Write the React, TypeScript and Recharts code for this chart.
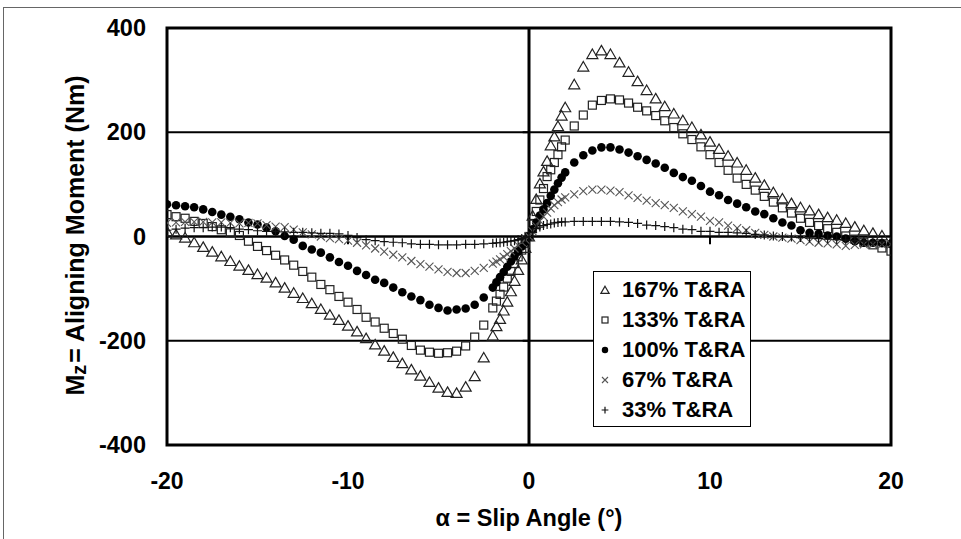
import React from 'react';
import { ScatterChart, Scatter, XAxis, YAxis, ReferenceLine, ReferenceArea, Legend, Label } from 'recharts';

// slip angle grid (deg): coarse on the flanks, dense through the origin
const alpha = [
  -20, -19.5, -19, -18.5, -18, -17.5, -17, -16.5, -16, -15.5, -15, -14.5, -14, -13.5, -13, -12.5, -12, -11.5,
  -11, -10.5, -10, -9.5, -9, -8.5, -8, -7.5, -7, -6.5, -6, -5.5, -5, -4.5, -4, -3.5, -3, -2.5,
  -2, -1.8, -1.6, -1.4, -1.2, -1, -0.8, -0.6, -0.4, -0.2, 0, 0.2, 0.4, 0.6, 0.8, 1, 1.2, 1.4, 1.6, 1.8, 2,
  2.5, 3, 3.5, 4, 4.5, 5, 5.5, 6, 6.5, 7, 7.5, 8, 8.5, 9, 9.5, 10, 10.5, 11,
  11.5, 12, 12.5, 13, 13.5, 14, 14.5, 15, 15.5, 16, 16.5, 17, 17.5, 18, 18.5, 19, 19.5, 20,
];

// aligning moment Mz (Nm) per load case
const mz167 = [
  10, 4, -2, -11, -20, -29, -38, -47, -56, -64, -72, -79, -88, -98, -108, -118, -128, -139,
  -150, -160, -171, -182, -195, -207, -219, -231, -243, -255, -267, -279, -290, -298, -300, -288, -268, -232,
  -190, -172, -158, -142, -125, -105, -85, -64, -44, -22, 0, 40, 72, 102, 125, 145, 175, 192, 212, 232, 248,
  292, 326, 350, 357, 350, 334, 316, 298, 281, 265, 250, 236, 223, 210, 196, 182, 168, 155,
  142, 128, 113, 99, 85, 73, 64, 56, 50, 43, 37, 32, 26, 19, 12, 7, 2, -12,
];
const mz133 = [
  42, 38, 35, 29, 25, 19, 13, 7, 2, -9, -19, -27, -36, -45, -55, -67, -78, -92,
  -102, -115, -126, -140, -155, -164, -176, -186, -197, -209, -218, -222, -224, -223, -220, -210, -193, -170,
  -137, -124, -111, -97, -80, -67, -52, -39, -26, -13, 0, 25, 48, 70, 92, 115, 128, 142, 157, 172, 185,
  212, 233, 252, 261, 264, 262, 256, 248, 241, 232, 222, 209, 197, 186, 172, 157, 142, 127,
  112, 100, 89, 77, 66, 55, 45, 35, 27, 21, 15, 8, 1, -5, -11, -16, -22, -28,
];
const mz100 = [
  62, 60, 58, 56, 52, 47, 42, 38, 33, 27, 23, 17, 10, 1, -6, -18, -25, -31,
  -40, -49, -56, -66, -74, -83, -89, -98, -107, -115, -122, -131, -137, -142, -140, -138, -131, -117,
  -98, -88, -78, -68, -58, -48, -38, -29, -19, -10, 0, 14, 27, 40, 52, 64, 78, 90, 102, 113, 123,
  142, 156, 165, 171, 171, 167, 161, 154, 147, 140, 132, 122, 114, 107, 97, 86, 79, 70,
  63, 56, 48, 43, 35, 27, 21, 12, 7, 5, 2, 0, -4, -9, -12, -12, -13, -14,
];
const mz67 = [
  26, 27, 28, 28, 28, 27, 27, 26, 25, 26, 25, 22, 19, 18, 13, 8, 4, 0,
  -3, -5, -8, -12, -17, -23, -29, -35, -40, -47, -53, -58, -63, -68, -70, -70, -66, -60,
  -52, -48, -44, -39, -34, -28, -23, -17, -11, -6, 0, 10, 20, 30, 38, 46, 54, 60, 66, 71, 75,
  81, 87, 90, 90, 88, 85, 79, 74, 69, 64, 60, 55, 48, 43, 38, 30, 27, 21,
  16, 12, 7, 3, 0, -2, -4, -7, -10, -12, -13, -15, -18, -16, -15, -15, -15, -15,
];
const mz33 = [
  12, 14, 16, 17, 17, 18, 18, 17, 14, 13, 11, 10, 10, 9, 8, 8, 7, 6,
  6, 5, 2, -2, -6, -8, -10, -11, -12, -14, -15, -15, -16, -16, -16, -15, -15, -14,
  -13, -12, -12, -11, -10, -9, -8, -6, -4, -2, 0, 8, 15, 18, 21, 23, 24, 26, 27, 28, 28,
  29, 29, 29, 29, 29, 28, 27, 25, 22, 21, 19, 17, 14, 13, 10, 10, 8, 8,
  7, 6, 4, 3, 1, 0, -1, -2, -3, -4, -5, -6, -7, -8, -9, -10, -10, -11,
];

const xTicks = [-20, -10, 0, 10, 20];
const yTicks = [-400, -200, 0, 200, 400];

type Kind = 'triangle' | 'square' | 'circle' | 'cross' | 'plus';

const series: { name: string; values: number[]; kind: Kind }[] = [
  { name: '167% T&RA', values: mz167, kind: 'triangle' },
  { name: '133% T&RA', values: mz133, kind: 'square' },
  { name: '100% T&RA', values: mz100, kind: 'circle' },
  { name: '67% T&RA', values: mz67, kind: 'cross' },
  { name: '33% T&RA', values: mz33, kind: 'plus' },
];

const FONT = '"Liberation Sans", Arial, sans-serif';

function Marker({ kind, cx, cy, s = 1 }: { kind: Kind; cx: number; cy: number; s?: number }) {
  if (kind === 'triangle') {
    return (
      <path
        d={`M${cx},${cy - 5 * s} L${cx + 5.5 * s},${cy + 4.5 * s} L${cx - 5.5 * s},${cy + 4.5 * s} Z`}
        fill="none" stroke="#222" strokeWidth={1.2}
      />
    );
  }
  if (kind === 'square') {
    return <rect x={cx - 4 * s} y={cy - 4 * s} width={8 * s} height={8 * s} fill="none" stroke="#222" strokeWidth={1.2} />;
  }
  if (kind === 'circle') {
    return <circle cx={cx} cy={cy} r={4.3 * s} fill="#000" />;
  }
  if (kind === 'cross') {
    const d = 4 * s;
    return (
      <path d={`M${cx - d},${cy - d} L${cx + d},${cy + d} M${cx - d},${cy + d} L${cx + d},${cy - d}`}
        stroke="#555" strokeWidth={1.1} fill="none" />
    );
  }
  const d = 4.5 * s;
  return (
    <path d={`M${cx - d},${cy} L${cx + d},${cy} M${cx},${cy - d} L${cx},${cy + d}`}
      stroke="#111" strokeWidth={1.2} fill="none" />
  );
}

function LegendBox() {
  return (
    <div style={{ width: 158, height: 156, boxSizing: 'border-box', border: '1px solid #000', background: '#fff', paddingTop: 3 }}>
      {series.map((s) => (
        <div key={s.name} style={{ display: 'flex', alignItems: 'center', height: 30 }}>
          <svg width={24} height={30} style={{ display: 'block' }}>
            <Marker kind={s.kind} cx={11} cy={15} s={0.75} />
          </svg>
          <span style={{ font: `bold 22px ${FONT}`, color: '#000', marginLeft: 4, whiteSpace: 'nowrap' }}>{s.name}</span>
        </div>
      ))}
    </div>
  );
}

const XTick = ({ x, y, payload }: any) => (
  <text x={x} y={y + 44} textAnchor="middle" fontFamily={FONT} fontWeight="bold" fontSize={23} fill="#000">
    {payload.value}
  </text>
);

const YTick = ({ x, y, payload }: any) => (
  <text x={x - 21} y={y + 8} textAnchor="end" fontFamily={FONT} fontWeight="bold" fontSize={23.5} fill="#000">
    {payload.value}
  </text>
);

export default function App() {
  return (
    <div style={{ position: 'fixed', left: 0, top: 0, width: 961, height: 539, overflow: 'hidden', background: '#fff' }}>
      <div style={{ position: 'absolute', left: 3, top: 7, width: 990, height: 560, border: '1px solid #666' }} />
      <div style={{ position: 'absolute', left: 0, top: 0 }}>
        <ScatterChart width={961} height={539} margin={{ top: 28, right: 70, bottom: 0, left: 0 }}>
          <XAxis
            type="number" dataKey="x" domain={[-20, 20]} ticks={xTicks} allowDataOverflow
            axisLine={false} tickLine={false} tickSize={0} tickMargin={0} height={94} tick={<XTick />}
          >
            <Label
              content={({ viewBox }: any) => (
                <text x={viewBox.x + viewBox.width / 2} y={viewBox.y + 81} textAnchor="middle"
                  fontFamily={FONT} fontWeight="bold" fontSize={23.5} fill="#000">
                  α = Slip Angle (°)
                </text>
              )}
            />
          </XAxis>
          <YAxis
            type="number" dataKey="y" domain={[-400, 400]} ticks={yTicks} allowDataOverflow
            axisLine={false} tickLine={false} tickSize={0} tickMargin={0} width={167} tick={<YTick />}
          >
            <Label
              content={({ viewBox }: any) => {
                const cx = 84;
                const cy = viewBox.y + viewBox.height / 2 - 1;
                return (
                  <text x={cx} y={cy} transform={`rotate(-90 ${cx} ${cy})`} textAnchor="middle"
                    fontFamily={FONT} fontWeight="bold" fontSize={25} fill="#000">
                    M<tspan fontSize={20} dy={2}>z</tspan><tspan dy={-2} dx={2}>= Aligning Moment (Nm)</tspan>
                  </text>
                );
              }}
            />
          </YAxis>

          <ReferenceLine y={200} stroke="#000" strokeWidth={2} />
          <ReferenceLine y={-200} stroke="#000" strokeWidth={2} />
          <ReferenceLine y={0} stroke="#000" strokeWidth={2.5} />
          <ReferenceLine x={0} stroke="#000" strokeWidth={3} />
          {[-10, 10].map((t) => (
            <ReferenceLine key={`xt${t}`} segment={[{ x: t, y: 0 }, { x: t, y: -15 }]} stroke="#000" strokeWidth={2} />
          ))}
          {[-200, 200].map((t) => (
            <ReferenceLine key={`yt${t}`} segment={[{ x: -0.35, y: t }, { x: 0, y: t }]} stroke="#000" strokeWidth={2} />
          ))}
          <ReferenceArea x1={-20} x2={20} y1={-400} y2={400} fill="none" stroke="#000" strokeWidth={3} />

          {series.map((s) => (
            <Scatter
              key={s.name}
              name={s.name}
              data={alpha.map((a, i) => ({ x: a, y: s.values[i] }))}
              isAnimationActive={false}
              shape={(p: any) => <Marker kind={s.kind} cx={p.cx} cy={p.cy} />}
            />
          ))}

          <Legend
            layout="vertical" verticalAlign="middle" align="center" width={158} height={156}
            wrapperStyle={{ left: 593, top: 271, width: 158, height: 156 }}
            content={() => <LegendBox />}
          />
        </ScatterChart>
      </div>
    </div>
  );
}
